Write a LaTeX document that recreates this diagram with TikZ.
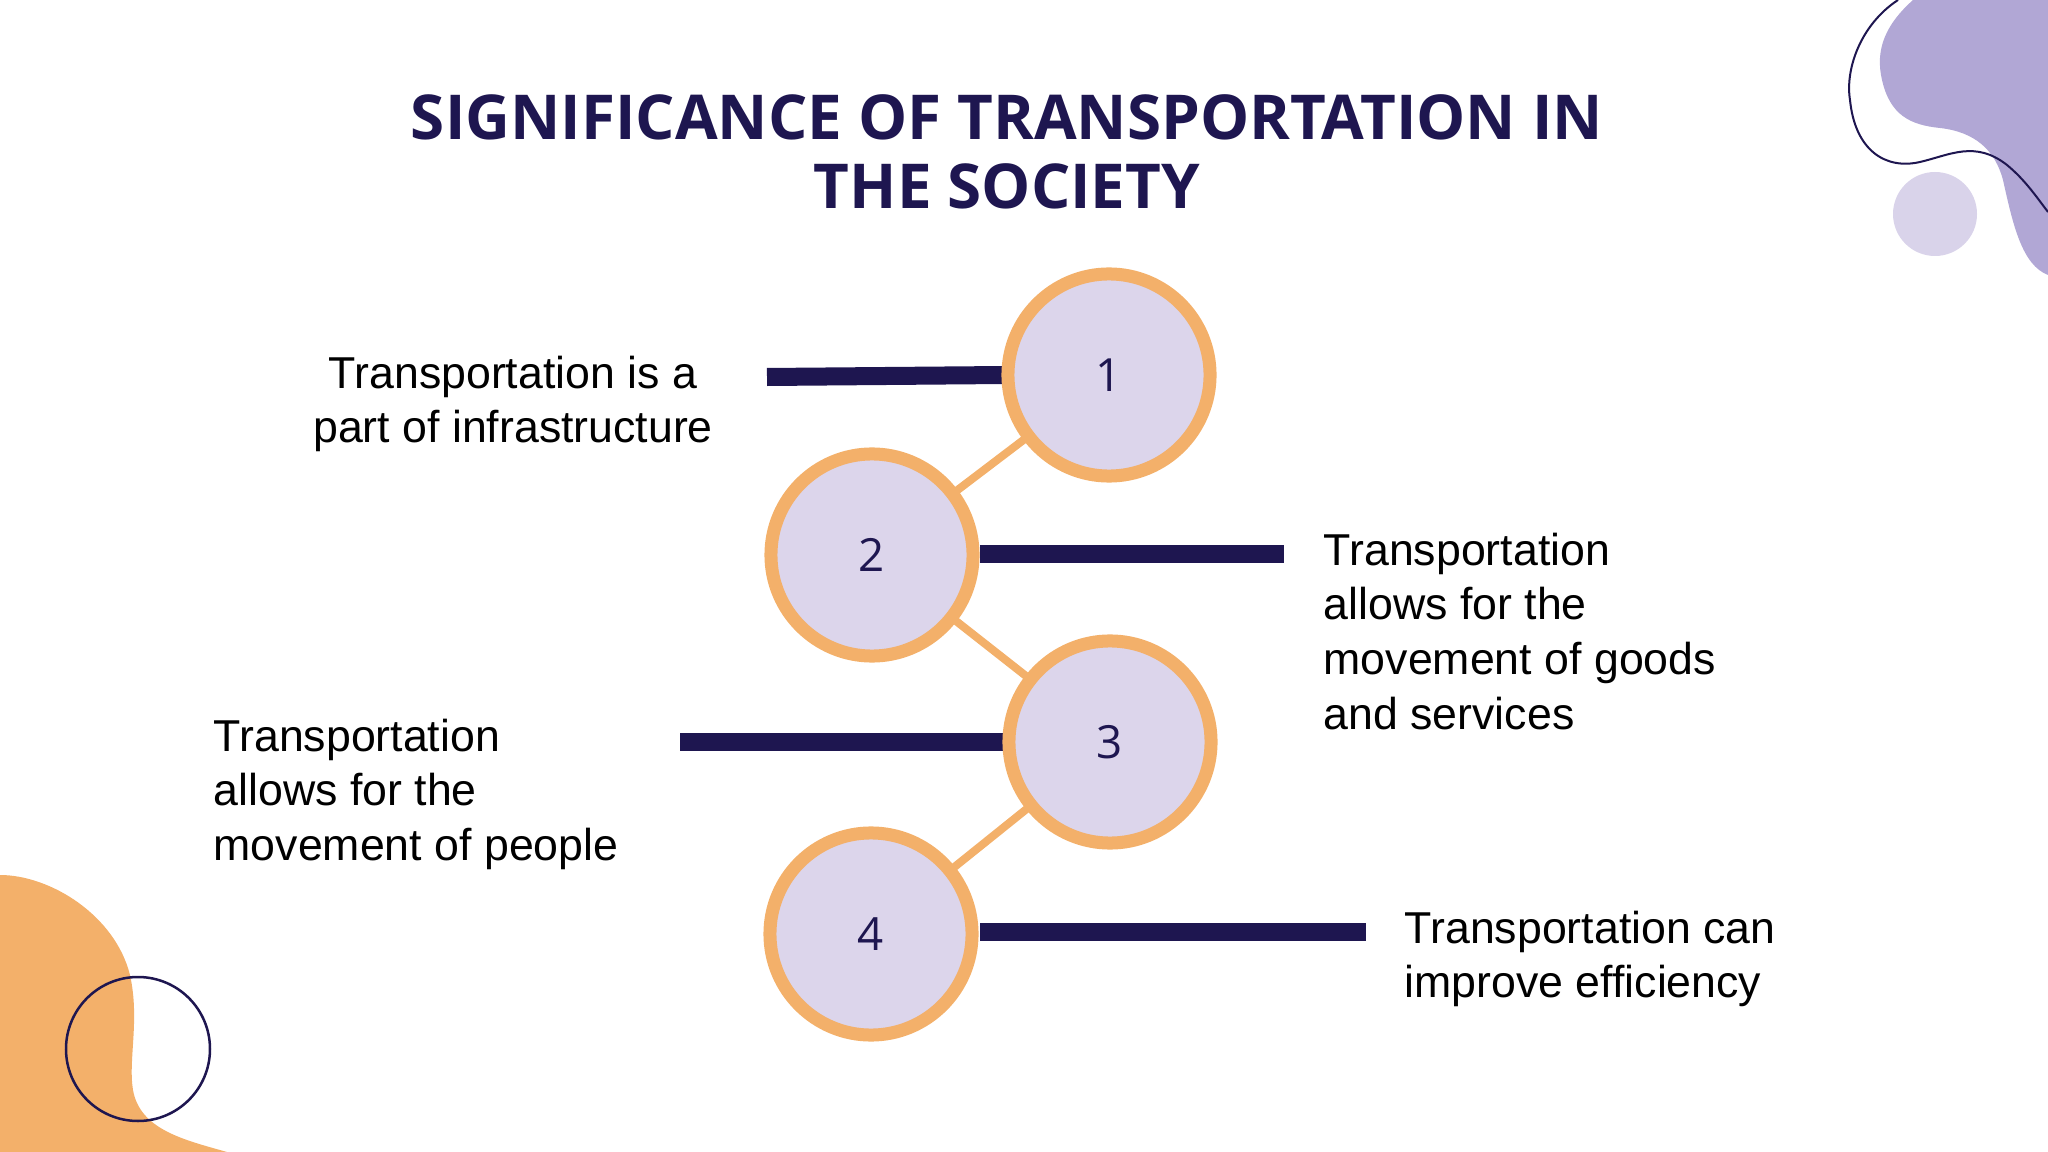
\documentclass[tikz,border=0pt]{standalone}
\usepackage{fontspec}
\setmainfont{Liberation Sans}
\newfontfamily\titlefont{Open Sans}
\definecolor{navy}{HTML}{1E1650}
\definecolor{orng}{HTML}{F3B06A}
\definecolor{lav}{HTML}{DCD5EB}
\definecolor{blob}{HTML}{B1A7D5}
\definecolor{lav2}{HTML}{D9D3EA}
\begin{document}
\begin{tikzpicture}[x=0.01cm,y=-0.01cm,
  numc/.style={circle,draw=orng,line width=0.13cm,fill=lav,minimum size=2.02cm,inner sep=0pt,
    font=\titlefont\fontsize{13}{15}\selectfont,text=navy},
  bar/.style={draw=navy,line width=0.18cm},
  link/.style={draw=orng,line width=0.08cm},
  lbl/.style={font=\fontsize{12.7}{15.6}\selectfont,inner sep=0pt}]
\useasboundingbox (0,0) rectangle (2048,1152);
% decorations
\fill[blob] (1913,0) .. controls (1885,25) and (1875,50) .. (1882,80)
  .. controls (1890,115) and (1910,125) .. (1940,128)
  .. controls (1975,132) and (1995,150) .. (2003,180)
  .. controls (2013,225) and (2022,265) .. (2048,275) -- (2048,0) -- cycle;
\draw[navy,line width=0.02cm] (1898,0) .. controls (1860,25) and (1845,70) .. (1850,100)
  .. controls (1855,150) and (1885,170) .. (1920,162)
  .. controls (1950,155) and (1975,140) .. (2007,165)
  .. controls (2025,180) and (2035,195) .. (2048,212);
\fill[lav2] (1935,214) circle (42);
\fill[orng] (0,875) .. controls (50,875) and (115,915) .. (130,975)
  .. controls (140,1020) and (128,1060) .. (133,1090)
  .. controls (140,1130) and (185,1140) .. (227,1152) -- (0,1152) -- cycle;
\draw[navy,line width=0.025cm] (138,1049) circle (72);
% title
\node[font=\titlefont\bfseries\fontsize{17.6}{19.8}\selectfont,text=navy,align=center] (title) at (1007,152)
  {SIGNIFICANCE OF TRANSPORTATION IN\\THE SOCIETY};
% circles
\coordinate (p1) at (1109,375);
\coordinate (p2) at (872,555);
\coordinate (p3) at (1110,742);
\coordinate (p4) at (871,934);
\draw[link] (p1) -- (p2) -- (p3) -- (p4);
\coordinate (b1) at (767,377);
\coordinate (b2) at (1284,554);
\coordinate (b3) at (680,742);
\coordinate (b4) at (1366,932);
\draw[bar] (b1) -- (p1 -| 1005,0);
\draw[bar] (980,554) -- (b2);
\draw[bar] (b3) -- (1005,742);
\draw[bar] (980,932) -- (b4);
\node[numc] (c1) at (p1) {1};
\node[numc] (c2) at (p2) {2};
\node[numc] (c3) at (p3) {3};
\node[numc] (c4) at (p4) {4};
% labels
\node[lbl,align=center] (t1) at (513,404) {Transportation is a\\part of infrastructure};
\node[lbl,align=left,anchor=north west] (t2) at (1323,532) {Transportation\\allows for the\\movement of goods\\and services};
\node[lbl,align=left,anchor=north west] (t3) at (213,718) {Transportation\\allows for the\\movement of people};
\node[lbl,align=left,anchor=north west] (t4) at (1404,910) {Transportation can\\improve efficiency};
\end{tikzpicture}
\end{document}
